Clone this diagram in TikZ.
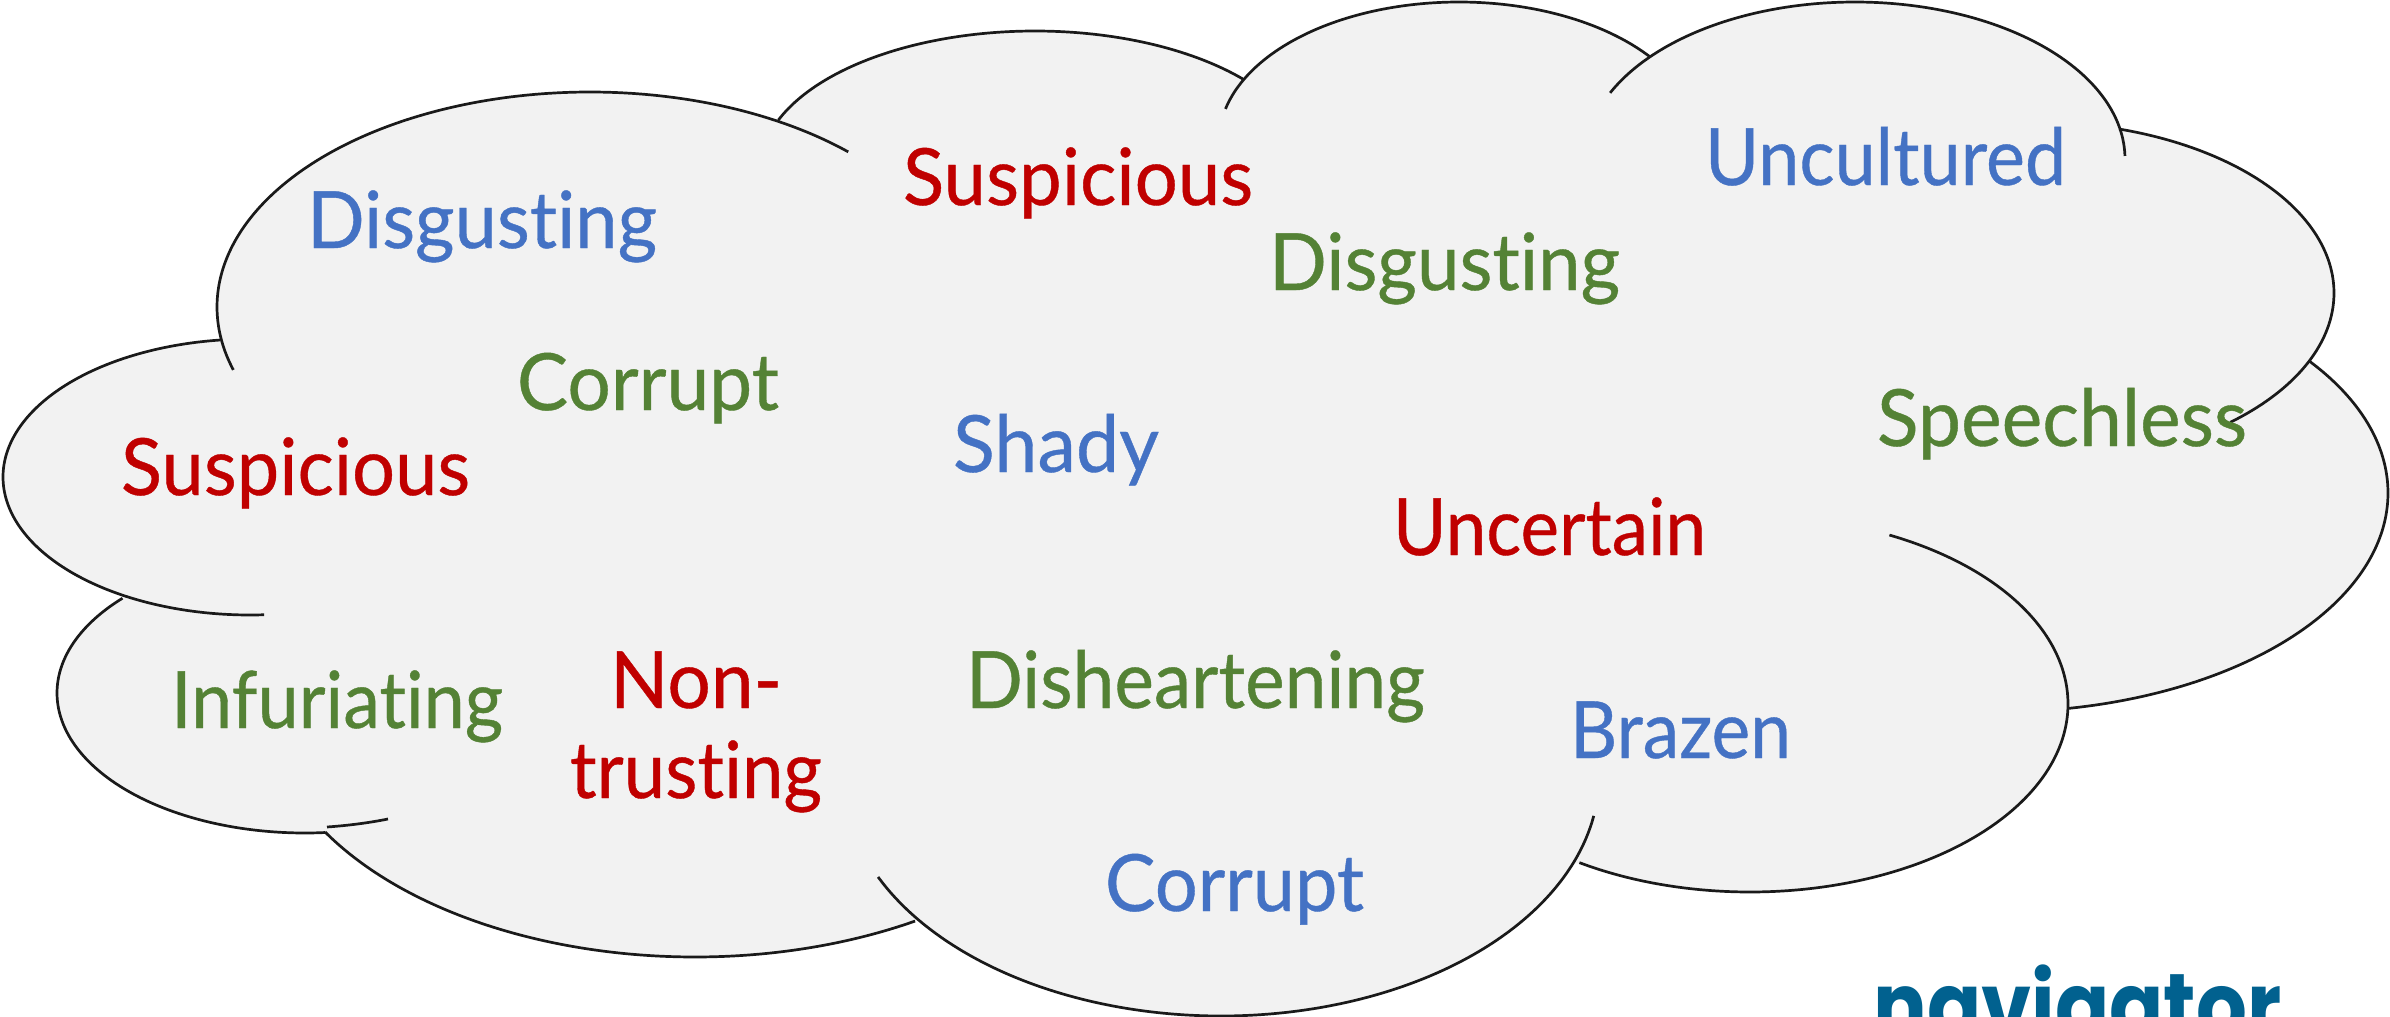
\documentclass[tikz,border=0pt]{standalone}
\usepackage{fontspec}
\usepackage{graphicx}
\setmainfont[Ligatures={NoCommon,NoRequired,NoContextual},FakeBold=0.5]{Lato}
\newfontfamily\logofont{Poppins}
\definecolor{cloudfill}{HTML}{F2F2F2}
\definecolor{cloudline}{HTML}{1A1A1A}
\definecolor{wred}{HTML}{C00000}
\definecolor{wblue}{HTML}{4472C4}
\definecolor{wgreen}{HTML}{548235}
\definecolor{logoblue}{HTML}{01618F}
\newcommand\fitw[2]{\resizebox{\dimexpr#1pt/2\relax}{\height}{#2}}
\tikzset{
  wordlabel/.style={anchor=base west,inner sep=0pt,outer sep=0pt,font=\fontsize{39.5}{44}\selectfont},
  cloudstroke/.style={draw=cloudline,line width=1.35pt,line cap=butt}
}
\def\lobes{250/477/247/138/264/614/220/339,
590/307/373/215/233/370/848/152,
1035/170/275/139/778/120/1243/79,
1459/141/240/139/1226/109/1650/57,
1855/159/270/157/1607/92/2122/156,
2034/293/300/171/2119/129/2230/422,
1998/493/390/219/2309/361/2068/708,
1750/704/318/188/1887/538/1579/863,
1221/776/378/240/1595/816/878/877,
695/702/430/255/915/921/325/832,
305/693/248/140/325/832/124/599}
\begin{document}
\begin{tikzpicture}[x=0.5pt,y=-0.5pt]
\useasboundingbox (0,0) rectangle (2390,1017);
\clip (0,0) rectangle (2390,1017);
% fill
\fill[cloudfill] (220,339) -- (778,120) -- (1243,79) -- (1650,57) -- (2119,129) -- (2309,361) -- (2068,708) -- (1579,863) -- (915,921) -- (325,832) -- (124,599) -- cycle;
\foreach \cx/\cy/\rx/\ry/\xa/\ya/\xb/\yb in \lobes {
  \fill[cloudfill] (\cx,\cy) ellipse [x radius=\rx, y radius=\ry];
}
% outline
\foreach \cx/\cy/\rx/\ry/\xa/\ya/\xb/\yb in \lobes {
  \pgfmathsetmacro\ta{atan2((\ya-\cy)/\ry,(\xa-\cx)/\rx)}
  \pgfmathsetmacro\tb{atan2((\yb-\cy)/\ry,(\xb-\cx)/\rx)}
  \pgfmathsetmacro\tb{\tb<\ta ? \tb+360 : \tb}
  \draw[cloudstroke] plot[domain=\ta:\tb,samples=90,smooth] ({\cx+\rx*cos(\x)},{\cy+\ry*sin(\x)});
}
\coordinate (tailA) at (327,827);
\coordinate (tailB) at (388,819);
\draw[cloudstroke] (tailA) .. controls (348,825.5) and (368,823) .. (tailB);
% words
\node[wordlabel,text=wblue]  (w1)  at (307,248)  {\fitw{350}{Disgusting}};
\node[wordlabel,text=wgreen] (w2)  at (517,410)  {\fitw{262}{Corrupt}};
\node[wordlabel,text=wred]   (w3)  at (121,495)  {\fitw{349}{Suspicious}};
\node[wordlabel,text=wred]   (w4)  at (903,205)  {\fitw{350}{Suspicious}};
\node[wordlabel,text=wgreen] (w5)  at (1269,290) {\fitw{351}{Disgusting}};
\node[wordlabel,text=wblue]  (w6)  at (1705,185) {\fitw{361}{Uncultured}};
\node[wordlabel,text=wgreen] (w7)  at (1877,446) {\fitw{370}{Speechless}};
\node[wordlabel,text=wblue]  (w8)  at (953,472)  {\fitw{206}{Shady}};
\node[wordlabel,text=wred]   (w9)  at (1393,555) {\fitw{313}{Uncertain}};
\node[wordlabel,text=wgreen] (w10) at (171,728)  {\fitw{332}{Infuriating}};
\node[wordlabel,text=wred]   (w11) at (610,708)  {\fitw{172}{Non-}};
\node[wordlabel,text=wred]   (w12) at (570,798)  {\fitw{252}{trusting}};
\node[wordlabel,text=wgreen] (w13) at (966,708)  {\fitw{459}{Disheartening}};
\node[wordlabel,text=wblue]  (w14) at (1570,758) {\fitw{221}{Brazen}};
\node[wordlabel,text=wblue]  (w15) at (1105,911) {\fitw{259}{Corrupt}};
\node[anchor=base west,inner sep=0pt,text=logoblue,font=\logofont\bfseries\fontsize{46}{50}\selectfont] (logo) at (1873,1038) {\fitw{408}{navigator}};
\end{tikzpicture}
\end{document}
